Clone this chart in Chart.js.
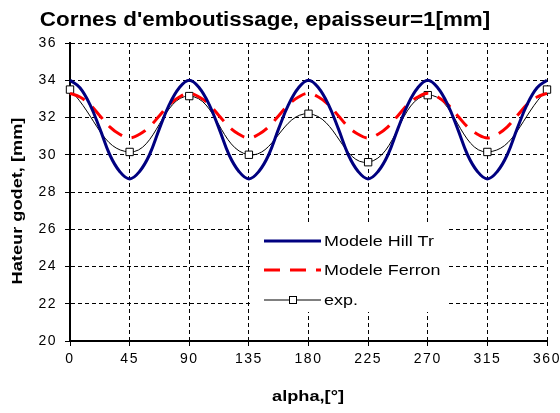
<!DOCTYPE html>
<html>
<head>
<meta charset="utf-8">
<script src="https://cdn.jsdelivr.net/npm/chart.js@4.4.1/dist/chart.umd.min.js"></script>
<style>
  body { margin:0; background:#fff; }
  .chartBox { width:560px; height:413px; }
</style>
</head>
<body>
<div class="chartBox"><canvas id="myChart" width="560" height="413"></canvas></div>
<script>
// angles for the model curves, every 7.5 deg
var modelAngles = [0,7.5,15,22.5,30,37.5,45,52.5,60,67.5,75,82.5,90,
  97.5,105,112.5,120,127.5,135,142.5,150,157.5,165,172.5,180,
  187.5,195,202.5,210,217.5,225,232.5,240,247.5,255,262.5,270,
  277.5,285,292.5,300,307.5,315,322.5,330,337.5,345,352.5,360];

var hillTr = [34.0,33.6,32.7,31.4,30.0,29.1,28.7,29.1,30.0,31.4,32.7,33.6,34.0,
  33.6,32.7,31.4,30.0,29.1,28.7,29.1,30.0,31.4,32.7,33.6,34.0,
  33.6,32.7,31.4,30.0,29.1,28.7,29.1,30.0,31.4,32.7,33.6,34.0,
  33.6,32.7,31.4,30.0,29.1,28.7,29.1,30.0,31.4,32.7,33.6,34.0];

var ferron = [33.3,33.1,32.7,32.1,31.5,31.1,30.9,31.1,31.5,32.1,32.7,33.1,33.3,
  33.1,32.7,32.1,31.5,31.1,30.9,31.1,31.5,32.1,32.7,33.1,33.3,
  33.1,32.7,32.1,31.5,31.1,30.9,31.1,31.5,32.1,32.7,33.1,33.3,
  33.1,32.7,32.1,31.5,31.1,30.9,31.1,31.5,32.1,32.7,33.1,33.3];

// measured points
var expAngles = [0,45,90,135,180,225,270,315,360];
var expValues = [33.5,30.15,33.15,30.0,32.2,29.6,33.2,30.15,33.5];

var titleText = "Cornes d'emboutissage, epaisseur=1[mm]";
var yTitle = "Hateur godet, [mm]";
var xTitle = "alpha,[\u00B0]";

function pts(xs, ys){
  var out = [];
  for (var i = 0; i < xs.length; i++) out.push({x: xs[i], y: ys[i]});
  return out;
}

var FONT = "'Liberation Sans', Arial, sans-serif";

// the old chart's text is wider than Liberation, so stretch it a bit
function wideText(ctx, txt, x, y, font, sx, align, rot){
  ctx.save();
  ctx.translate(x, y);
  if (rot) ctx.rotate(rot);
  ctx.scale(sx, 1);
  ctx.font = font;
  ctx.fillStyle = '#000';
  ctx.textAlign = align;
  ctx.textBaseline = 'middle';
  ctx.fillText(txt, 0, 0);
  ctx.restore();
}

var spacing = {
  id: 'spacing',
  beforeDraw: function(chart){ chart.ctx.letterSpacing = '1.5px'; },
  afterDraw: function(chart){ chart.ctx.letterSpacing = '0px'; }
};

// titles at their own spots, legend drawn inside the plot
var extras = {
  id: 'extras',
  afterDatasetsDraw: function(chart){
    var ctx = chart.ctx;
    ctx.save();
    ctx.letterSpacing = '0px';
    wideText(ctx, titleText, 265, 20, 'bold 20px ' + FONT, 1.12, 'center');
    wideText(ctx, yTitle, 18, 201, 'bold 14px ' + FONT, 1.3, 'center', -Math.PI / 2);
    wideText(ctx, xTitle, 308, 397, 'bold 14px ' + FONT, 1.3, 'center');

    // legend box
    ctx.fillStyle = '#fff';
    ctx.fillRect(250, 224, 196, 88);
    var rows = [241, 270, 300];
    chart.data.datasets.forEach(function(ds, i){
      var y = rows[i];
      ctx.beginPath();
      ctx.strokeStyle = ds.borderColor;
      ctx.lineWidth = ds.borderWidth;
      ctx.setLineDash(ds.borderDash || []);
      ctx.moveTo(264, y);
      ctx.lineTo(321, y);
      ctx.stroke();
      ctx.setLineDash([]);
      if (ds.pointRadius) {
        ctx.fillStyle = ds.pointBackgroundColor;
        ctx.lineWidth = 1;
        ctx.strokeStyle = ds.pointBorderColor;
        ctx.fillRect(289, y - 4, 7, 7);
        ctx.strokeRect(289.5, y - 3.5, 7, 7);
      }
      wideText(ctx, ds.label, 324, y + 1, '14px ' + FONT, 1.28, 'left');
    });
    ctx.restore();
  }
};

function noPad(s){ s.paddingLeft = 0; s.paddingRight = 0; s.paddingTop = 0; s.paddingBottom = 0; }

var ctx = document.getElementById('myChart').getContext('2d');
var myChart = new Chart(ctx, {
  type: 'line',
  data: {
    datasets: [{
      label: 'Modele Hill Tr',
      data: pts(modelAngles, hillTr),
      borderColor: '#000080',
      borderWidth: 3,
      pointRadius: 0,
      tension: 0.4,
      clip: false
    }, {
      label: 'Modele Ferron',
      data: pts(modelAngles, ferron),
      borderColor: '#ff0000',
      borderWidth: 3,
      borderDash: [16, 10],
      pointRadius: 0,
      tension: 0.4,
      clip: false
    }, {
      label: 'exp.',
      data: pts(expAngles, expValues),
      borderColor: '#000',
      borderWidth: 1,
      pointStyle: 'rect',
      pointRadius: 5.2,
      pointBackgroundColor: '#fff',
      pointBorderColor: '#000',
      pointBorderWidth: 1,
      tension: 0.45,
      clip: false
    }]
  },
  plugins: [spacing, extras],
  options: {
    responsive: false,
    animation: false,
    layout: { padding: { left: 0, right: 13, top: 43, bottom: 0 } },
    plugins: {
      legend: { display: false },
      title: { display: false },
      tooltip: { enabled: false }
    },
    scales: {
      x: {
        type: 'linear',
        min: 0, max: 360,
        ticks: { stepSize: 45, color: '#000', font: { size: 14, family: FONT }, padding: 5, maxRotation: 0 },
        grid: { color: '#000', lineWidth: 1, tickLength: 5 },
        border: { color: '#000', width: 2, dash: [4, 3] },
        afterFit: function(s){ s.height = 72; noPad(s); }
      },
      y: {
        min: 20, max: 36,
        ticks: { stepSize: 2, color: '#000', font: { size: 14, family: FONT }, padding: 8 },
        grid: { color: '#000', lineWidth: 1, tickLength: 5 },
        border: { color: '#000', width: 2, dash: [4, 3] },
        afterFit: function(s){ s.width = 70; noPad(s); }
      }
    }
  }
});
</script>
</body>
</html>
